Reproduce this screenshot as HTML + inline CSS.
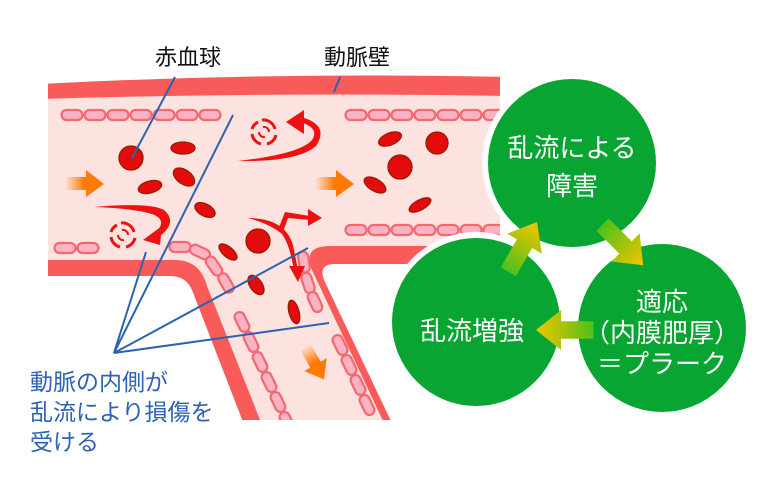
<!DOCTYPE html>
<html><head><meta charset="utf-8"><style>
html,body{margin:0;padding:0;background:#fff}
svg{display:block}
text{font-family:"Liberation Sans","Noto Sans CJK JP",sans-serif}
</style></head><body>
<svg width="780" height="488" viewBox="0 0 780 488" xmlns="http://www.w3.org/2000/svg">
<defs>
<linearGradient id="og" x1="0" x2="1" y1="0" y2="0"><stop offset="0" stop-color="#ff7a00" stop-opacity="0"/><stop offset="0.5" stop-color="#ff7a00"/></linearGradient>
<linearGradient id="gy" x1="0" x2="1" y1="0" y2="0"><stop offset="0" stop-color="#4cc21a"/><stop offset="1" stop-color="#f5c400"/></linearGradient>
<clipPath id="vc"><rect x="48" y="0" width="452" height="420"/></clipPath>
<g id="cell"><rect x="-10.5" y="-5" width="21" height="10" rx="5" fill="#f9b3c3" stroke="#f56870" stroke-width="2.2"/></g>
<g id="swirl" fill="none" stroke="#ee1111" stroke-width="3">
<path d="M-2,-12 A12,12 0 0 1 11,-3"/><path d="M12,3 A12,12 0 0 1 3,12"/><path d="M-3,12 A12,12 0 0 1 -12,2"/><path d="M-12,-3 A12,12 0 0 1 -6,-10"/>
<path d="M-1,-5 A5,5 0 0 1 5,0" stroke-width="2"/><path d="M1,5 A5,5 0 0 1 -5,0" stroke-width="2"/>
</g>
</defs>
<g clip-path="url(#vc)">
<path d="M40,84 Q270,72 510,77 L510,264 L335,264 Q318,264 324,280 L400,440 L250,440 L192,290 Q186,276 170,276 L40,276 Z" fill="#f95a5a"/>
<path d="M40,99 Q270,92 510,96 L510,246 L330,246 Q302,246 312,270 L392,440 L268,440 L207,286 Q200,260 175,260 L40,260 Z" fill="#fde3e0"/>
<g>
<use href="#cell" x="72" y="115"/><use href="#cell" x="95" y="115"/><use href="#cell" x="118" y="115"/><use href="#cell" x="141" y="115"/><use href="#cell" x="164" y="115"/><use href="#cell" x="187" y="115"/><use href="#cell" x="210" y="115"/>
<use href="#cell" x="356" y="115"/><use href="#cell" x="379" y="115"/><use href="#cell" x="402" y="115"/><use href="#cell" x="425" y="115"/><use href="#cell" x="448" y="115"/><use href="#cell" x="471" y="115"/><use href="#cell" x="494" y="115"/>
<use href="#cell" x="356" y="230"/><use href="#cell" x="379" y="230"/><use href="#cell" x="402" y="230"/><use href="#cell" x="425" y="230"/><use href="#cell" x="448" y="230"/><use href="#cell" x="471" y="230"/><use href="#cell" x="494" y="230"/>
<use href="#cell" x="65" y="248"/><use href="#cell" x="88" y="248"/>
<use href="#cell" x="180" y="247"/>
<g transform="translate(200,252) rotate(25)"><use href="#cell"/></g>
<g transform="translate(214,266) rotate(55)"><use href="#cell"/></g>
<g transform="translate(226,283) rotate(60)"><use href="#cell"/></g>
<g transform="translate(242,322) rotate(64)"><use href="#cell"/></g>
<g transform="translate(251,342) rotate(64)"><use href="#cell"/></g>
<g transform="translate(260,362) rotate(64)"><use href="#cell"/></g>
<g transform="translate(269,382) rotate(64)"><use href="#cell"/></g>
<g transform="translate(278,402) rotate(64)"><use href="#cell"/></g>
<g transform="translate(287,422) rotate(64)"><use href="#cell"/></g>
<g transform="translate(304,262) rotate(80)"><use href="#cell"/></g>
<g transform="translate(308,283) rotate(72)"><use href="#cell"/></g>
<g transform="translate(315,302) rotate(65)"><use href="#cell"/></g>
<g transform="translate(340,345) rotate(64)"><use href="#cell"/></g>
<g transform="translate(349,365) rotate(64)"><use href="#cell"/></g>
<g transform="translate(358,385) rotate(64)"><use href="#cell"/></g>
<g transform="translate(367,405) rotate(64)"><use href="#cell"/></g>
</g>
</g>
<g fill="#e30b0b" stroke="#9a1a00" stroke-width="1.3">
<circle cx="131" cy="158" r="12"/><circle cx="258" cy="241" r="12"/><circle cx="400" cy="167" r="12"/><circle cx="437" cy="143" r="11"/>
<ellipse cx="183" cy="148" rx="12" ry="6"/>
<ellipse cx="184" cy="177" rx="12" ry="7" transform="rotate(35 184 177)"/>
<ellipse cx="150" cy="187" rx="12" ry="6" transform="rotate(-15 150 187)"/>
<ellipse cx="205" cy="210" rx="11" ry="6" transform="rotate(28 205 210)"/>
<ellipse cx="228" cy="252" rx="11" ry="5" transform="rotate(40 228 252)"/>
<ellipse cx="256" cy="285" rx="11" ry="6" transform="rotate(55 256 285)"/>
<ellipse cx="294" cy="312" rx="12" ry="5" transform="rotate(75 294 312)"/>
<ellipse cx="390" cy="139" rx="12" ry="6" transform="rotate(-22 390 139)"/>
<ellipse cx="375" cy="185" rx="12" ry="6" transform="rotate(30 375 185)"/>
<ellipse cx="420" cy="205" rx="12" ry="5" transform="rotate(-28 420 205)"/>
</g>
<path d="M65,177 L86,177 L86,170 L104,184 L86,197 L86,190 L65,190 Z" fill="url(#og)"/>
<path d="M315,177 L336,177 L336,170 L354,184 L336,197 L336,190 L315,190 Z" fill="url(#og)"/>
<g transform="translate(314,362) rotate(60)"><path d="M-18,-6 L3,-6 L3,-13 L20,0 L3,13 L3,6 L-18,6 Z" fill="url(#og)"/></g>
<!-- crescent flow arrows -->
<g fill="#ee1111">
<path d="M238,161 Q300,154 312,140 Q320,128 300,122 L301,117 Q330,125 316,146 Q298,162 238,161 Z"/>
<path d="M286,122 L304,110 L304,134 Z"/>
<path d="M94,207 Q150,202 164,210 Q178,222 160,236 L156,232 Q168,220 152,214 Q130,208 94,207 Z"/>
<path d="M143,240 L162,226 L160,245 Z"/>
<path d="M248,218 Q285,218 293,245 L298,270 L294,271 Q290,245 282,234 Q270,224 248,218 Z"/>
<path d="M278,230 L285,212 L310,216 L310,220 L288,218 L283,232 Z"/>
<path d="M289,266 L305,266 L298,282 Z"/>
<path d="M308,209 L322,218 L308,226 Z"/>
</g>
<use href="#swirl" x="264" y="132"/>
<use href="#swirl" x="123" y="235"/>
<g stroke="#2b63b2" stroke-width="2" fill="none">
<line x1="175" y1="77" x2="132" y2="158"/>
<line x1="340" y1="77" x2="334" y2="92"/>
<line x1="114" y1="353" x2="233" y2="115"/>
<line x1="114" y1="353" x2="146" y2="252"/>
<line x1="114" y1="353" x2="308" y2="248"/>
<line x1="114" y1="353" x2="329" y2="323"/>
</g>
<text x="188" y="65" font-size="22" text-anchor="middle" fill="#111">赤血球</text>
<text x="357" y="65" font-size="22" text-anchor="middle" fill="#111">動脈壁</text>
<g font-size="23" fill="#2d62b4">
<text x="30" y="390">動脈の内側が</text>
<text x="30" y="420">乱流により損傷を</text>
<text x="30" y="450">受ける</text>
</g>
<g fill="#08a532" stroke="#fff" stroke-width="6">
<circle cx="572" cy="163" r="87"/>
<circle cx="476" cy="322" r="87"/>
<circle cx="662" cy="328" r="87"/>
</g>
<g transform="translate(522,248) rotate(-60) scale(1.25)"><path d="M-22,-7 L4,-7 L4,-16 L24,0 L4,16 L4,7 L-22,7 Z" fill="url(#gy)"/></g>
<g transform="translate(622,244) rotate(45) scale(1.25)"><path d="M-22,-7 L4,-7 L4,-16 L24,0 L4,16 L4,7 L-22,7 Z" fill="url(#gy)"/></g>
<g transform="translate(566,330) rotate(180) scale(1.25)"><path d="M-22,-7 L4,-7 L4,-16 L24,0 L4,16 L4,7 L-22,7 Z" fill="url(#gy)"/></g>
<g font-size="26" fill="#fff" text-anchor="middle">
<text x="572" y="157">乱流による</text>
<text x="572" y="195">障害</text>
<text x="472" y="340">乱流増強</text>
<text x="662" y="311">適応</text>
<text x="662" y="342">（内膜肥厚）</text>
<text x="662" y="373">＝プラーク</text>
</g>
</svg>
</body></html>
